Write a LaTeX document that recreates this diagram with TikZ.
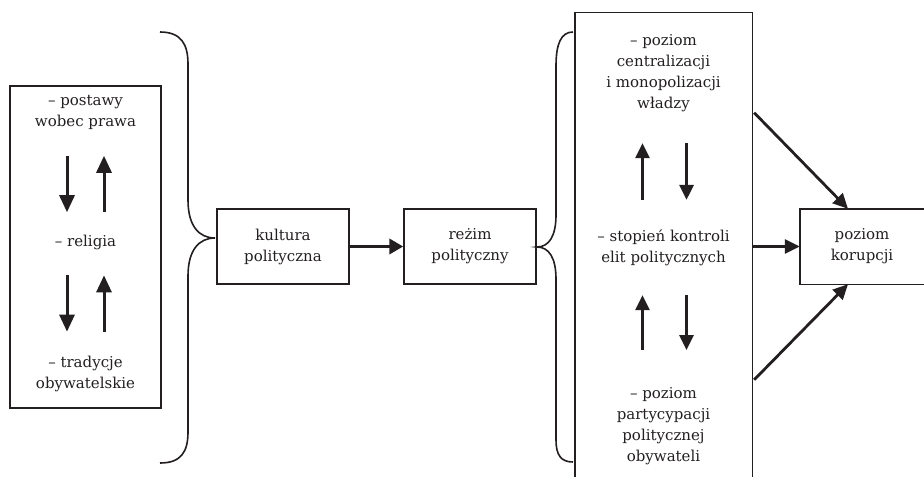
\documentclass[tikz,border=0pt]{standalone}
\usepackage{fontspec}
\setmainfont{DejaVu Serif}
\usetikzlibrary{arrows.meta}
\definecolor{ink}{RGB}{35,31,32}
\tikzset{
  box/.style={draw=ink, line width=1.4pt, minimum width=132pt, minimum height=75pt, align=center, inner sep=0pt, text=ink},
  txt/.style={align=center, text=ink, inner sep=2pt},
  frame/.style={draw=ink, line width=1.4pt},
  brace/.style={draw=ink, line width=1.6pt},
  arr/.style={draw=ink, line width=3pt, -{Triangle[length=17pt,width=15pt]}},
  arrsm/.style={draw=ink, line width=2.8pt, -{Triangle[length=15pt,width=14pt]}}
}
\begin{document}
\begin{tikzpicture}[x=1pt,y=-1pt,font=\fontsize{15}{21}\selectfont]
  \useasboundingbox (0,0) rectangle (924,477);

  % left box
  \node (lbox) at (85.5,247) [box, minimum width=151pt, minimum height=322pt] {};
  \node (post) at (85.5,112.4) [txt] {– postawy\\wobec prawa};
  \node (rel) at (85.5,242.8) [txt] {– religia};
  \node (trad) at (85.5,373.7) [txt] {– tradycje\\obywatelskie};

  \draw[arr, shorten <=24pt, shorten >=21pt] ([xshift=-18.5pt]post.south) -- ([xshift=-18.5pt]rel.north);
  \draw[arr, shorten <=21pt, shorten >=24pt] ([xshift=18.5pt]rel.north) -- ([xshift=18.5pt]post.south);
  \draw[arr, shorten <=23pt, shorten >=22pt] ([xshift=-18.5pt]rel.south) -- ([xshift=-18.5pt]trad.north);
  \draw[arr, shorten <=22pt, shorten >=23pt] ([xshift=18.5pt]trad.north) -- ([xshift=18.5pt]rel.south);

  % left brace
  \draw[brace] (160,32) .. controls (181,32) and (188,44) .. (188,64) -- (188,200)
    .. controls (188,226) and (199,238) .. (215,238)
    .. controls (199,238) and (188,250) .. (188,276) -- (188,432)
    .. controls (188,452) and (181,463) .. (160,463);

  % middle boxes
  \node (kul) at (283,246.5) [box] {kultura\\polityczna};
  \node (rez) at (470,246.5) [box] {reżim\\polityczny};
  \draw[arr, line width=3.5pt, -{Triangle[length=14pt,width=15pt]}] (kul) -- (rez);

  % right brace
  \draw[brace] (573,32) .. controls (561,32) and (556,44) .. (556,66) -- (556,215)
    .. controls (556,236) and (549,247) .. (537,247)
    .. controls (549,247) and (556,258) .. (556,279) -- (556,440)
    .. controls (556,455) and (561,462) .. (573,462);

  % right box, open at the bottom
  \node (rbox) at (663.5,244.75) [minimum width=177pt, minimum height=464.5pt, inner sep=0pt] {};
  \draw[frame] (rbox.south west) -- (rbox.north west) -- (rbox.north east) -- (rbox.south east);
  \node (cent) at (663.5,73.5) [txt] {– poziom\\centralizacji\\i monopolizacji\\władzy};
  \node (stop) at (663.5,247.8) [txt] {– stopień kontroli\\elit politycznych};
  \node (part) at (663.5,426.5) [txt] {– poziom\\partycypacji\\politycznej\\obywateli};

  \draw[arrsm, shorten <=27.7pt, shorten >=28.7pt] ([xshift=-21pt]stop.north) -- ([xshift=-21pt]cent.south);
  \draw[arrsm, shorten <=28.7pt, shorten >=27.7pt] ([xshift=23pt]cent.south) -- ([xshift=23pt]stop.north);
  \draw[arrsm, shorten <=35.6pt, shorten >=27.2pt] ([xshift=-21pt]part.north) -- ([xshift=-21pt]stop.south);
  \draw[arrsm, shorten <=27.2pt, shorten >=35.6pt] ([xshift=23pt]stop.south) -- ([xshift=23pt]part.north);

  % poziom korupcji, open at the right
  \node (kor) at (862,246.5) [txt, minimum width=124pt, minimum height=75pt, inner sep=0pt] {poziom\\korupcji};
  \draw[frame] (kor.north east) -- (kor.north west) -- (kor.south west) -- (kor.south east);

  \draw[arrsm] ([xshift=2pt,yshift=132pt]rbox.east) -- ([xshift=-14pt]kor.north);
  \draw[arrsm] (rbox.east |- kor.west) -- (kor.west);
  \draw[arrsm] ([xshift=2pt,yshift=-135pt]rbox.east) -- ([xshift=-14pt]kor.south);
\end{tikzpicture}
\end{document}
